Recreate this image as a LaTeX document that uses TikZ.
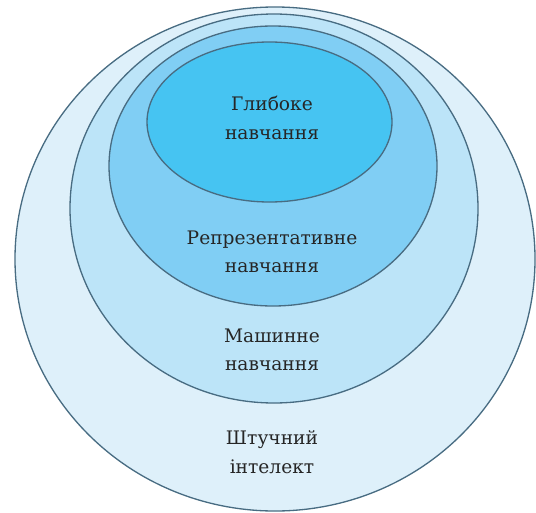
\documentclass[tikz,border=0pt]{standalone}
\usepackage{fontspec}
\setmainfont{DejaVu Serif}
\definecolor{aicolor}{RGB}{222,240,250}
\definecolor{mlcolor}{RGB}{188,228,248}
\definecolor{rlcolor}{RGB}{128,206,244}
\definecolor{dlcolor}{RGB}{70,196,242}
\definecolor{rimcolor}{RGB}{72,108,130}
\begin{document}
\begin{tikzpicture}[
    layer/.style={draw=rimcolor, line width=0.75pt},
    textnode/.style={align=center, font=\fontsize{10.6}{16.2}\selectfont, text=black!85}
    ]
    \useasboundingbox (0,0) rectangle (10.72,10.24);

    % Ellipses, outer to inner
    \draw[layer, fill=aicolor] (5.50,5.06) ellipse [x radius=5.20, y radius=5.04];
    \draw[layer, fill=mlcolor] (5.48,6.07) ellipse [x radius=4.08, y radius=3.89];
    \draw[layer, fill=rlcolor] (5.46,6.92) ellipse [x radius=3.28, y radius=2.80];
    \draw[layer, fill=dlcolor] (5.39,7.80) ellipse [x radius=2.45, y radius=1.60];

    % Labels
    \node[textnode] (dl) at (5.44, 7.88) {Глибоке\\навчання};
    \node[textnode] (rl) at (5.44, 5.20) {Репрезентативне\\навчання};
    \node[textnode] (ml) at (5.44, 3.24) {Машинне\\навчання};
    \node[textnode] (ai) at (5.44, 1.20) {Штучний\\інтелект};

\end{tikzpicture}
\end{document}
